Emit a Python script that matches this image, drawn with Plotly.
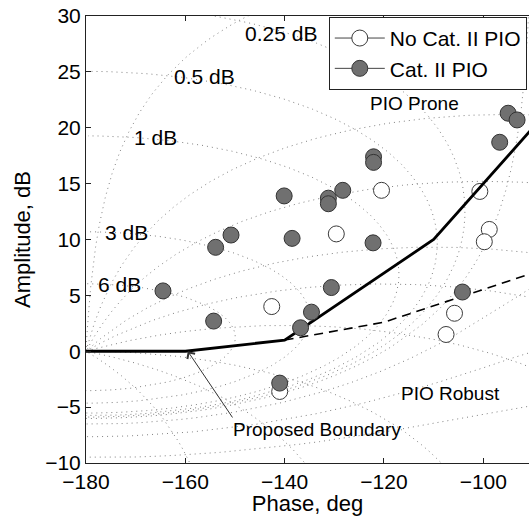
import numpy as np
import plotly.graph_objects as go

# Nichols chart grid: closed-loop gain contours (dB) and closed-loop phase contours (deg)
grid_gain_db = [6, 3, 1, 0.5, 0.25, 0, -1, -3, -6, -12, -20]
grid_cl_phase = [-1, -5, -10, -20, -30, -50, -90, -120, -150]

# gain contour labels
gain_label_text = ["0.25 dB", "0.5 dB", "1 dB", "3 dB", "6 dB"]
gain_label_phase = [-140.7, -156.2, -166.1, -171.9, -173.3]
gain_label_amp = [28.4, 24.6, 19.1, 10.6, 6.0]

# flight test points (phase in deg, amplitude in dB)
phase_no_pio = [-120.5, -129.6, -142.6, -100.7, -98.8, -99.8, -105.8, -107.5, -141.0]
amp_no_pio = [14.4, 10.5, 4.0, 14.3, 10.9, 9.8, 3.4, 1.5, -3.6]

phase_pio = [-140.1, -131.2, -131.2, -128.3, -150.8, -153.9, -138.5, -122.2, -164.5, -130.6,
             -154.3, -134.6, -136.8, -104.2, -122.1, -122.1, -95.0, -93.2, -96.7, -141.0]
amp_pio = [13.9, 13.7, 13.2, 14.4, 10.4, 9.3, 10.1, 9.7, 5.4, 5.7,
           2.7, 3.5, 2.1, 5.3, 17.4, 16.9, 21.3, 20.7, 18.7, -2.85]

# proposed boundary and alternative (dashed) boundary
boundary_phase = [-180, -160, -140, -110, -90]
boundary_amp = [0, 0, 1, 10, 20]
alt_phase = [-140, -120, -90]
alt_amp = [1, 2.6, 7]


def to_nichols(T):
    G = T / (1 - T)
    ph = np.degrees(np.angle(G))
    ph = np.where(ph > 0, ph - 360, ph)
    mag = 20 * np.log10(np.abs(G))
    # break the curve where the phase wraps
    jump = np.abs(np.diff(ph)) > 90
    ph = ph.astype(float)
    mag = mag.astype(float)
    ph_out, mag_out = [], []
    for i in range(len(ph)):
        ph_out.append(ph[i])
        mag_out.append(mag[i])
        if i < len(jump) and jump[i]:
            ph_out.append(None)
            mag_out.append(None)
    return ph_out, mag_out


grid_x, grid_y = [], []
theta = np.radians(np.linspace(-359.95, -0.05, 6000))
for g in grid_gain_db:
    M = 10 ** (g / 20)
    x, y = to_nichols(M * np.exp(1j * theta))
    grid_x += x + [None]
    grid_y += y + [None]
mags = np.logspace(-3, 3, 6000)
for p in grid_cl_phase:
    x, y = to_nichols(mags * np.exp(1j * np.radians(p)))
    grid_x += x + [None]
    grid_y += y + [None]

font = "Liberation Sans, Arial, sans-serif"
fig = go.Figure()

fig.add_trace(go.Scatter(
    x=grid_x, y=grid_y, mode="lines", hoverinfo="skip", showlegend=False,
    line=dict(color="rgb(130,130,130)", width=1, dash="1px,4px"),
))

fig.add_trace(go.Scatter(
    x=phase_no_pio, y=amp_no_pio, mode="markers", showlegend=False,
    marker=dict(size=16, color="white", line=dict(color="#3a3a3a", width=1)),
))
fig.add_trace(go.Scatter(
    x=boundary_phase, y=boundary_amp, mode="lines", showlegend=False,
    line=dict(color="black", width=2.8),
))
fig.add_trace(go.Scatter(
    x=alt_phase, y=alt_amp, mode="lines", showlegend=False,
    line=dict(color="black", width=1.6, dash="9px,6px"),
))
fig.add_trace(go.Scatter(
    x=phase_pio, y=amp_pio, mode="markers", showlegend=False,
    marker=dict(size=16, color="#707070", line=dict(color="#333333", width=1)),
))

# legend entries
fig.add_trace(go.Scatter(
    x=[None], y=[None], mode="lines+markers", name="No Cat. II PIO",
    line=dict(color="#444444", width=1),
    marker=dict(size=16, color="white", line=dict(color="#3a3a3a", width=1)),
))
fig.add_trace(go.Scatter(
    x=[None], y=[None], mode="lines+markers", name="Cat. II PIO",
    line=dict(color="#444444", width=1),
    marker=dict(size=16, color="#707070", line=dict(color="#333333", width=1)),
))

annotations = []
for t, px, py in zip(gain_label_text, gain_label_phase, gain_label_amp):
    annotations.append(dict(x=px, y=py, text=t, showarrow=False,
                            font=dict(size=21, color="black", family=font)))
annotations.append(dict(x=-113.9, y=22.2, text="PIO Prone", showarrow=False,
                        font=dict(size=19, color="black", family=font)))
annotations.append(dict(x=-106.6, y=-3.8, text="PIO Robust", showarrow=False,
                        font=dict(size=19, color="black", family=font)))
annotations.append(dict(x=-133.5, y=-7.0, text="Proposed Boundary", showarrow=False,
                        font=dict(size=19, color="black", family=font)))
annotations.append(dict(x=-159.5, y=0.0, ax=-150.3, ay=-6.06, axref="x", ayref="y",
                        text="", showarrow=True, arrowhead=4, arrowsize=1.8,
                        arrowwidth=1, arrowcolor="#333333"))

fig.update_layout(
    width=529, height=516,
    margin=dict(l=86, r=0, t=16, b=53),
    paper_bgcolor="white", plot_bgcolor="white",
    font=dict(family=font, size=21, color="black"),
    annotations=annotations,
    legend=dict(x=0.995, y=0.998, xanchor="right", yanchor="top",
                bgcolor="white", bordercolor="#222222", borderwidth=1,
                font=dict(size=21, family=font, color="black"),
                tracegroupgap=0, itemwidth=50),
    xaxis=dict(range=[-180, -90.8], tickvals=[-180, -160, -140, -120, -100],
               showgrid=False, zeroline=False, showline=True, linecolor="#222222",
               linewidth=1, mirror="ticks", ticks="inside", ticklen=5,
               tickcolor="#222222", tickfont=dict(size=21),
               title=dict(text="Phase, deg", font=dict(size=22), standoff=4)),
    yaxis=dict(range=[-10, 30], tickvals=[-10, -5, 0, 5, 10, 15, 20, 25, 30],
               showgrid=False, zeroline=False, showline=True, linecolor="#222222",
               linewidth=1, mirror=False, ticks="inside", ticklen=5,
               tickcolor="#222222", tickfont=dict(size=21),
               title=dict(text="Amplitude, dB", font=dict(size=22), standoff=8)),
)

fig.write_html("out.html")
